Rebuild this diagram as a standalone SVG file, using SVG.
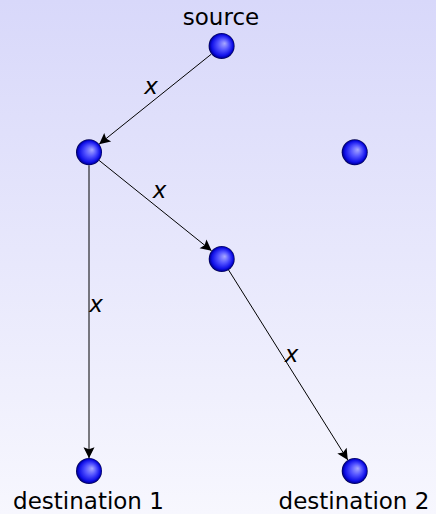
<svg xmlns="http://www.w3.org/2000/svg" width="436" height="514" viewBox="0 0 436 514">
<defs>
<linearGradient id="bg" x1="0" y1="0" x2="0" y2="1">
<stop offset="0" stop-color="#d8d8fa"/>
<stop offset="1" stop-color="#f7f7fe"/>
</linearGradient>
<radialGradient id="ball" cx="0.5" cy="0.5" r="0.5" fx="0.62" fy="0.4">
<stop offset="0" stop-color="#a8a8ff"/>
<stop offset="0.45" stop-color="#5050ff"/>
<stop offset="0.8" stop-color="#1010e8"/>
<stop offset="0.93" stop-color="#0000a0"/>
<stop offset="1" stop-color="#000040"/>
</radialGradient>
<marker id="arr" markerUnits="userSpaceOnUse" markerWidth="14" markerHeight="14" viewBox="-1 -7 14 14" refX="11" refY="0" orient="auto">
<path d="M11,0 L0,-5.5 L2,0 L0,5.5 Z" fill="#000"/>
</marker>
</defs>
<style>
.node{fill:url(#ball);}
.lbl{font-family:"DejaVu Sans",sans-serif;font-size:23px;fill:#000;text-anchor:middle;}
.elbl{font-family:"DejaVu Sans",sans-serif;font-size:23px;font-style:italic;fill:#000;text-anchor:middle;}
.edge{stroke:#000;stroke-width:1;fill:none;marker-end:url(#arr);}
</style>
<rect width="436" height="514" fill="url(#bg)"/>
<g id="connectors">
<line class="edge" x1="211.4" y1="54.1" x2="99.1" y2="144.2"/>
<text class="elbl" x="151" y="94">x</text>
<line class="edge" x1="99.1" y1="160.4" x2="211.6" y2="250.8"/>
<text class="elbl" x="159.5" y="198.3">x</text>
<line class="edge" x1="89" y1="165.3" x2="89" y2="458.3"/>
<text class="elbl" x="96" y="311.7">x</text>
<line class="edge" x1="228.6" y1="270" x2="347.8" y2="460"/>
<text class="elbl" x="291.5" y="361.7">x</text>
</g>
<g id="source">
<circle class="node" cx="221.6" cy="46" r="13"/>
<text class="lbl" x="221" y="25">source</text>
</g>
<g id="n1">
<circle class="node" cx="89" cy="152.3" r="13"/>
</g>
<g id="n2">
<circle class="node" cx="354.7" cy="152.3" r="13"/>
</g>
<g id="n3">
<circle class="node" cx="221.7" cy="259" r="13"/>
</g>
<g id="dest1">
<circle class="node" cx="89" cy="471" r="13"/>
<text class="lbl" x="88.5" y="509">destination 1</text>
</g>
<g id="dest2">
<circle class="node" cx="354.7" cy="471" r="13"/>
<text class="lbl" x="354" y="509">destination 2</text>
</g>
</svg>
